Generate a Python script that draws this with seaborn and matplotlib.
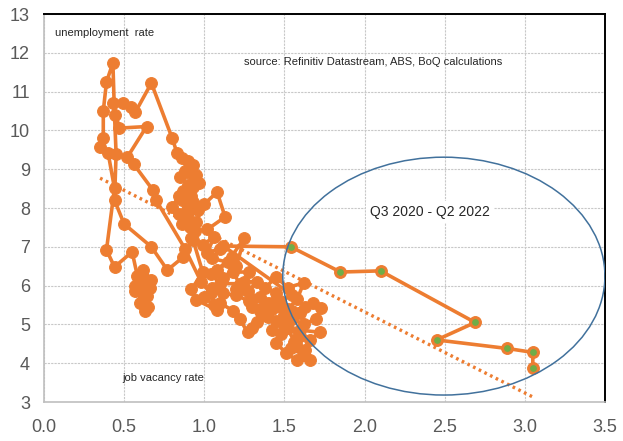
import matplotlib
matplotlib.use("Agg")
import matplotlib.pyplot as plt
from matplotlib.patches import Ellipse
import numpy as np
import pandas as pd
import seaborn as sns

# Beveridge curve: job vacancy rate (x) vs unemployment rate (y), quarterly path
vacancy_hist = [
    # early 1980s
    0.60, 0.57, 0.62, 0.65, 0.63, 0.58, 0.62, 0.67, 0.64, 0.60, 0.66, 0.61, 0.57, 0.63,
    0.55, 0.44, 0.39,
    # 1982-83 recession
    0.44, 0.40, 0.35, 0.37, 0.37, 0.39, 0.43,
    # late 1980s recovery
    0.44, 0.45, 0.44, 0.50, 0.67, 0.77, 0.87, 0.93, 0.99, 0.92, 0.95, 1.08, 1.04, 0.98,
    # early 1990s recession
    0.88, 0.70, 0.68, 0.56, 0.52, 0.64, 0.47, 0.43, 0.49, 0.54, 0.57, 0.67,
    # 1990s
    0.80, 0.83, 0.86, 0.90, 0.93, 0.88, 0.85, 0.91, 0.95, 0.90, 0.87, 0.93, 0.97, 0.92,
    0.86, 0.84, 0.80, 0.84, 0.89, 0.93, 0.96, 0.90, 0.86, 0.91, 0.95, 1.00, 1.08, 1.13,
    1.02, 0.94, 0.92, 0.99, 1.06, 1.02,
    # 2000s
    1.10, 1.05, 1.15, 1.08, 1.17, 1.25, 1.20, 1.12, 1.04, 1.10, 1.22, 1.18, 1.28, 1.25,
    1.33, 1.27, 1.20, 1.30, 1.35, 1.30, 1.40, 1.35, 1.38, 1.45, 1.42, 1.48, 1.50, 1.45,
    1.51, 1.58, 1.66, 1.63, 1.56, 1.60,
    # 2009
    1.40, 1.28, 1.20, 1.12, 1.05, 1.00, 1.06, 1.10, 1.18, 1.22, 1.27, 1.33, 1.30,
    # 2010s
    1.36, 1.42, 1.48, 1.45, 1.38, 1.45, 1.52, 1.62, 1.58, 1.52, 1.60, 1.68, 1.73, 1.70,
    1.62, 1.55, 1.52, 1.60, 1.72, 1.66, 1.58, 1.54, 1.62, 1.57, 1.50, 1.55, 1.63, 1.50,
    1.42, 1.47, 1.55,
    # Q2 2020
    1.12,
]
unemployment_hist = [
    6.10, 5.85, 5.62, 5.45, 5.85, 6.25, 6.40, 6.15, 5.72, 5.55, 5.95, 6.30, 6.00, 5.35,
    6.87, 6.48, 6.92,
    8.51, 9.42, 9.57, 9.80, 10.50, 11.25, 11.74,
    10.40, 9.40, 8.20, 7.59, 7.00, 6.40, 6.74, 7.18, 6.35, 5.90, 5.63, 5.37, 5.80, 6.10,
    6.95, 8.20, 8.46, 9.13, 9.31, 10.10, 10.06, 10.70, 10.70, 10.60, 10.47, 11.22,
    9.80, 9.42, 9.30, 9.20, 9.10, 8.95, 8.80, 8.90, 8.85, 8.60, 8.45, 8.55, 8.65, 8.30,
    8.20, 8.30, 8.02, 7.85, 7.95, 8.15, 7.95, 7.75, 7.60, 7.50, 7.65, 8.10, 8.41, 7.77,
    7.45, 7.40, 7.23, 7.05, 7.25, 6.85,
    6.95, 6.70, 6.60, 6.40, 6.75, 7.22, 6.50, 6.20, 6.30, 6.05, 6.05, 6.35, 6.35, 6.10,
    6.10, 5.85, 5.90, 5.65, 5.70, 5.45, 5.55, 5.35, 5.25, 5.10, 4.85, 4.75, 4.95, 4.52,
    4.26, 4.08, 4.08, 4.35, 4.55, 4.70,
    5.20, 5.60, 5.75, 5.80, 5.95, 5.70, 5.50, 5.55, 5.35, 5.15, 4.80, 5.05, 4.90,
    5.25, 5.40, 5.45, 5.80, 5.95, 6.22, 5.95, 6.07, 5.65, 5.40, 5.30, 5.55, 5.42, 5.15,
    5.00, 5.15, 4.90, 4.85, 4.80, 4.60, 4.65, 4.40, 4.20, 4.50, 5.05, 5.35, 5.45, 5.25,
    5.55, 5.60, 5.75,
    7.02,
]

# Q3 2020 - Q2 2022
vacancy_recent = [1.54, 1.85, 2.10, 2.69, 2.45, 2.89, 3.05, 3.05]
unemployment_recent = [7.00, 6.35, 6.38, 5.05, 4.60, 4.38, 4.28, 3.88]

# linear trend across the pre-pandemic history
trend_vacancy = [0.35, 3.05]
trend_unemployment = [8.77, 3.13]

# highlight region around the recent quarters
ellipse_centre = (2.495, 6.245)
ellipse_width = 2.01
ellipse_height = 6.13

x_ticks = [0.0, 0.5, 1.0, 1.5, 2.0, 2.5, 3.0, 3.5]
y_ticks = [3, 4, 5, 6, 7, 8, 9, 10, 11, 12, 13]

ORANGE = "#ED7D31"
GREEN = "#70AD47"

sns.set_style("white")
plt.rcParams["font.family"] = ["Liberation Sans Narrow", "Liberation Sans", "DejaVu Sans"]

fig = plt.figure(figsize=(6.23, 4.41), dpi=100)
ax = fig.add_axes([0.0706, 0.0884, 0.9004, 0.8798])

df = pd.DataFrame({
    "vacancy": vacancy_hist + vacancy_recent,
    "unemployment": unemployment_hist + unemployment_recent,
})
recent = pd.DataFrame({"vacancy": vacancy_recent, "unemployment": unemployment_recent})
trend = pd.DataFrame({"vacancy": trend_vacancy, "unemployment": trend_unemployment})

sns.lineplot(data=trend, x="vacancy", y="unemployment", ax=ax, color=ORANGE,
             lw=2.4, linestyle=(0, (0.8, 1.1)), zorder=2)
sns.lineplot(data=df, x="vacancy", y="unemployment", sort=False, estimator=None,
             ax=ax, color=ORANGE, lw=2.6, marker="o", markersize=8.5,
             markeredgecolor=ORANGE, markerfacecolor=ORANGE, zorder=3)
sns.scatterplot(data=recent, x="vacancy", y="unemployment", ax=ax, s=40,
                color=GREEN, edgecolor=ORANGE, linewidth=1.4, zorder=4)

ax.add_patch(Ellipse(ellipse_centre, ellipse_width, ellipse_height, fill=False,
                     edgecolor="#41719C", lw=1.1, zorder=5))

ax.set_xlim(0, 3.5)
ax.set_ylim(3, 13)
ax.set_xticks(x_ticks)
ax.set_xticklabels([f"{v:.1f}" for v in x_ticks])
ax.set_yticks(y_ticks)
ax.set_yticklabels([str(v) for v in y_ticks])
ax.tick_params(axis="both", length=0, labelsize=13, labelcolor="#595959")
ax.tick_params(axis="x", pad=12)
ax.tick_params(axis="y", pad=10)
ax.set_xlabel("")
ax.set_ylabel("")
ax.grid(True, color="#C8C8C8", linestyle=(0, (2, 1)), lw=0.8)
ax.set_axisbelow(True)

for side in ("left", "bottom"):
    ax.spines[side].set_color("#BFBFBF")
    ax.spines[side].set_linewidth(1.2)
for side in ("top", "right"):
    ax.spines[side].set_color("black")
    ax.spines[side].set_linewidth(1.4)

ax.text(0.07, 12.51, "unemployment  rate", fontsize=8, color="#262626",
        va="center", ha="left", zorder=6)
ax.text(1.25, 11.76, "source: Refinitiv Datastream, ABS, BoQ calculations",
        fontsize=8, color="#262626", va="center", ha="left", zorder=6)
ax.text(2.41, 7.9, "Q3 2020 - Q2 2022", fontsize=10, color="#262626",
        va="center", ha="center", zorder=6,
        bbox=dict(facecolor="white", edgecolor="none", pad=3))
ax.text(0.49, 3.62, "job vacancy rate", fontsize=8, color="#262626",
        va="center", ha="left", zorder=6)

fig.savefig("out.png", dpi=100)
